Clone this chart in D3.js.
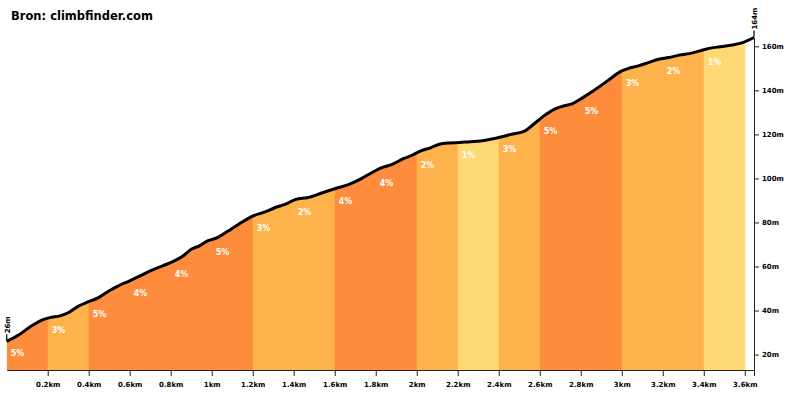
<!DOCTYPE html>
<html>
<head>
<meta charset="utf-8">
<script src="https://cdn.jsdelivr.net/npm/d3@7"></script>
<style>
  body { margin: 0; background: #fff; }
  text { font-family: "DejaVu Sans", Verdana, sans-serif; font-weight: bold; }
</style>
</head>
<body>
<div id="chart"></div>
<script>
// profile: distance (km) and elevation (m)
const distKm = [0, 0.06, 0.12, 0.18, 0.21, 0.26, 0.30, 0.35, 0.40, 0.45, 0.50, 0.54, 0.60, 0.65, 0.70, 0.76, 0.81, 0.86, 0.90, 0.94,
  0.98, 1.03, 1.08, 1.13, 1.20, 1.26, 1.31, 1.36, 1.41, 1.47, 1.54, 1.60, 1.67, 1.73, 1.78, 1.83, 1.88, 1.94, 1.97,
  2.02, 2.07, 2.11, 2.16, 2.21, 2.26, 2.31, 2.36, 2.41, 2.46, 2.52, 2.57, 2.62, 2.67, 2.72, 2.76, 2.81, 2.86, 2.93,
  3.00, 3.03, 3.08, 3.13, 3.18, 3.23, 3.28, 3.34, 3.41, 3.47, 3.54, 3.59, 3.645];
const elevM = [26, 29, 33, 36, 36.8, 37.6, 39, 42, 44, 46, 49, 51, 53.5, 55.7, 58, 60.3, 62.2, 64.8, 67.8, 69.4,
  71.6, 73.2, 76.1, 79.1, 82.9, 84.8, 86.8, 88.3, 90.5, 91.3, 93.5, 95.3, 97.3, 99.9, 102.6, 104.9, 106.4, 109.2, 110.2,
  112.5, 114, 115.5, 116.1, 116.3, 116.7, 117, 117.8, 118.8, 120, 121.2, 124.6, 128.4, 131.4, 133, 134, 136.7, 139.7, 144.3,
  148.8, 149.9, 151.1, 152.6, 154.1, 154.9, 156, 156.9, 158.7, 159.7, 160.6, 161.7, 164];

// gradient per 200 m section
const segGrade = [5, 3, 5, 4, 4, 5, 3, 2, 4, 4, 2, 1, 3, 5, 5, 3, 2, 1];
const segLen = 0.2;

const xTicks = [0.2, 0.4, 0.6, 0.8, 1, 1.2, 1.4, 1.6, 1.8, 2, 2.2, 2.4, 2.6, 2.8, 3, 3.2, 3.4, 3.6];
const yTicks = [20, 40, 60, 80, 100, 120, 140, 160];

const width = 790, height = 395;
const total = distKm[distKm.length - 1];
const startElev = elevM[0], endElev = elevM[elevM.length - 1];

const x = d3.scaleLinear().domain([0, total]).range([6.7, 754]);
const y = d3.scaleLinear().domain([13, 164]).range([370, 37.5]);

const pts = distKm.map((d, i) => ({ d: d, e: elevM[i] }));
const elevAt = d3.scaleLinear().domain(distKm).range(elevM);

const gradeColor = g => g >= 4 ? "#fd8d3c" : (g >= 2 ? "#feb24c" : "#fed976");

const svg = d3.select("#chart").append("svg")
  .attr("width", width)
  .attr("height", height);

const area = d3.area()
  .x(p => x(p.d))
  .y0(y(13))
  .y1(p => y(p.e))
  .curve(d3.curveMonotoneX);

const line = d3.line()
  .x(p => x(p.d))
  .y(p => y(p.e))
  .curve(d3.curveMonotoneX);

svg.append("clipPath").attr("id", "under")
  .append("path").attr("d", area(pts));

// coloured sections under the profile
const segs = segGrade.map((g, i) => ({
  g: g,
  x0: i * segLen,
  x1: Math.min((i + 1) * segLen, total)
}));

svg.append("g").attr("clip-path", "url(#under)")
  .selectAll("rect").data(segs).join("rect")
  .attr("x", s => x(s.x0))
  .attr("y", 0)
  .attr("width", s => x(s.x1) - x(s.x0) + 0.5)
  .attr("height", y(13))
  .attr("fill", s => gradeColor(s.g));

// profile line
svg.append("path")
  .attr("d", line(pts))
  .attr("fill", "none")
  .attr("stroke", "#000")
  .attr("stroke-width", 3)
  .attr("stroke-linejoin", "round");

// percent labels
svg.append("g").selectAll("text").data(segs).join("text")
  .attr("x", s => x(s.x0) + 4)
  .attr("y", s => y(elevAt(s.x0)) + 15)
  .attr("fill", "#fff")
  .attr("font-size", 8)
  .text(s => s.g + "%");

// x axis
const xAxis = d3.axisBottom(x)
  .tickValues(xTicks.concat([total]))
  .tickSize(6)
  .tickSizeOuter(0)
  .tickFormat(d => d === total ? "" : d3.format("~g")(d) + "km");

const gx = svg.append("g")
  .attr("transform", `translate(0,${y(13)})`)
  .call(xAxis);
gx.select(".domain").attr("stroke", "#222").attr("stroke-width", 1);
gx.selectAll(".tick line").attr("stroke", "#222");
gx.selectAll(".tick text").attr("font-size", 7).attr("fill", "#000").attr("dy", "1.15em")
  .attr("font-family", "DejaVu Sans");

// y axis on the right
const yAxis = d3.axisRight(y)
  .tickValues(yTicks)
  .tickSize(5)
  .tickSizeOuter(0)
  .tickFormat(d => d + "m");

const gy = svg.append("g")
  .attr("transform", `translate(${x(total)},0)`)
  .call(yAxis);
gy.select(".domain").attr("stroke", "#222");
gy.selectAll(".tick line").attr("stroke", "#222");
gy.selectAll(".tick text").attr("font-size", 7).attr("fill", "#000").attr("x", 8)
  .attr("font-family", "DejaVu Sans");

// start / end elevation markers
function endMarker(d, e) {
  const px = x(d), py = y(e);
  svg.append("line")
    .attr("x1", px).attr("x2", px)
    .attr("y1", py).attr("y2", py - 7)
    .attr("stroke", "#000").attr("stroke-width", 1.2);
  svg.append("text")
    .attr("transform", `translate(${px + 3},${py - 8}) rotate(-90)`)
    .attr("font-size", 7)
    .attr("fill", "#000")
    .text(e + "m");
}
endMarker(0, startElev);
endMarker(total, endElev);

// title
svg.append("text")
  .attr("x", 11)
  .attr("y", 20)
  .attr("font-size", 11.5)
  .attr("fill", "#000")
  .text("Bron: climbfinder.com");
</script>
</body>
</html>
